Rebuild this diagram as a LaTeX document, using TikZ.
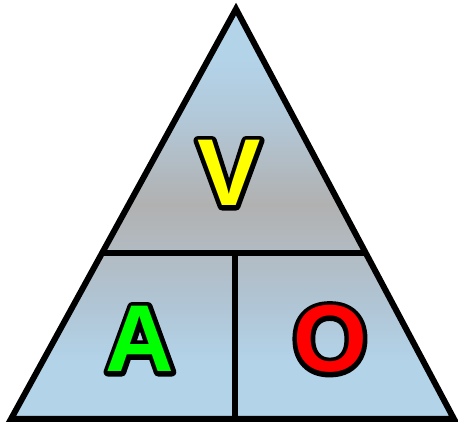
\documentclass[tikz,border=0pt]{standalone}
\usepackage{fontspec}
\setmainfont{Liberation Sans}
\usetikzlibrary{calc}
\definecolor{skyblue}{RGB}{179,211,233}
\definecolor{midblue}{RGB}{176,196,211}
\definecolor{bluegrey}{RGB}{178,187,194}
\definecolor{midgrey}{RGB}{177,177,177}
\definecolor{upblue}{RGB}{178,200,216}
\definecolor{vyellow}{RGB}{255,255,0}
\definecolor{agreen}{RGB}{0,255,0}
\definecolor{ored}{RGB}{255,0,0}
\pgfdeclareverticalshading{tri}{100bp}{%
  color(0bp)=(skyblue); color(25bp)=(skyblue); color(32bp)=(skyblue);
  color(39.6bp)=(midblue); color(45.5bp)=(bluegrey); color(51.2bp)=(midgrey);
  color(61.6bp)=(upblue); color(68.9bp)=(skyblue); color(75bp)=(skyblue); color(100bp)=(skyblue)}
\newcommand{\outlined}[2]{%
  \makebox[0pt][l]{\special{pdf:literal 2 Tr 9 w 1 j 0 0 0 RG 0 0 0 rg}#2\special{pdf:literal 0 Tr}}%
  \textcolor{#1}{#2}}
\tikzset{
  edge/.style={line width=6pt, draw=black, line join=miter},
  letter/.style={anchor=base, inner sep=0pt, font=\bfseries\fontsize{95}{95}\selectfont}
}
\begin{document}
\begin{tikzpicture}[x=1pt,y=1pt]
\useasboundingbox (0,0) rectangle (458,428);
\coordinate (apex) at (236,419);
\coordinate (bl) at (11,9);
\coordinate (br) at (454,9);
\coordinate (ml) at ($(apex)!0.595!(bl)$);
\coordinate (mr) at ($(apex)!0.595!(br)$);
\coordinate (mt) at (235,175);
\coordinate (mb) at (235,9);
\path[shading=tri] (apex) -- (bl) -- (br) -- cycle;
\draw[edge] (ml) -- (mr);
\draw[edge] (mt) -- (mb);
\draw[edge] (apex) -- (bl) -- (br) -- cycle;
\node[letter] (V) at (229,222) {\outlined{vyellow}{V}};
\node[letter] (A) at (140,56) {\outlined{agreen}{A}};
\node[letter] (O) at (330,56) {\outlined{ored}{O}};
\end{tikzpicture}
\end{document}
